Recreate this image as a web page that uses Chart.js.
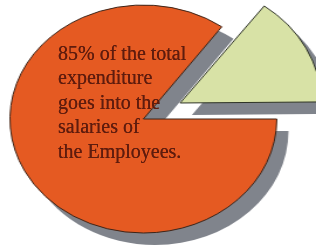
<!DOCTYPE html>
<html>
<head>
<meta charset="utf-8">
<script src="https://cdn.jsdelivr.net/npm/chart.js@4/dist/chart.umd.min.js"></script>
<style>
  html, body { margin: 0; padding: 0; background: #ffffff; width: 316px; height: 250px; overflow: hidden; }
  #wrap { position: absolute; left: 0; top: 0; width: 270px; height: 250px; transform: scaleX(1.1704); transform-origin: 0 0; }
  #note { position: absolute; left: 58px; top: 41px; font-family: "Liberation Serif", "DejaVu Serif", serif; font-size: 20px; line-height: 24.4px; color: #5e1c0e; white-space: nowrap; text-shadow: 0 0 0.6px #5e1c0e; }
</style>
</head>
<body>
<div id="wrap"><canvas id="c" width="270" height="250"></canvas></div>
<div id="note">85% of the total<br>expenditure<br>goes into the<br>salaries of<br>the Employees.</div>
<script>
const categories = ['Salaries of the Employees', 'Other expenditure'];
const values = [85, 15];
const sliceColors = ['#e55a22', '#d8e2a6'];
const sliceOffsets = [0, 141];

const SHADOW = '#80848c';
const SHADOW_DX = 10;
const SHADOW_DY = 12;

const shadowPlugin = {
  id: 'shadow',
  beforeDatasetsDraw(chart) {
    const ctx = chart.ctx;
    chart.getSortedVisibleDatasetMetas().forEach(meta => {
      meta.data.forEach(el => {
        const o = el.options;
        el.options = Object.assign({}, o, { backgroundColor: SHADOW, borderColor: SHADOW, borderWidth: 0 });
        ctx.save();
        ctx.translate(SHADOW_DX, SHADOW_DY);
        el.draw(ctx);
        ctx.restore();
        el.options = o;
      });
    });
  }
};

new Chart(document.getElementById('c'), {
  type: 'pie',
  data: {
    labels: categories,
    datasets: [{
      data: values,
      backgroundColor: sliceColors,
      borderColor: ['#3c2418', '#2e3326'],
      borderWidth: 1,
      offset: sliceOffsets,
      radius: 114,
      rotation: 90,
      clip: false
    }]
  },
  options: {
    responsive: false,
    animation: false,
    events: [],
    layout: { padding: { left: 0, right: 25, top: 0, bottom: 12 } },
    plugins: { legend: { display: false }, tooltip: { enabled: false } }
  },
  plugins: [shadowPlugin]
});
</script>
</body>
</html>
